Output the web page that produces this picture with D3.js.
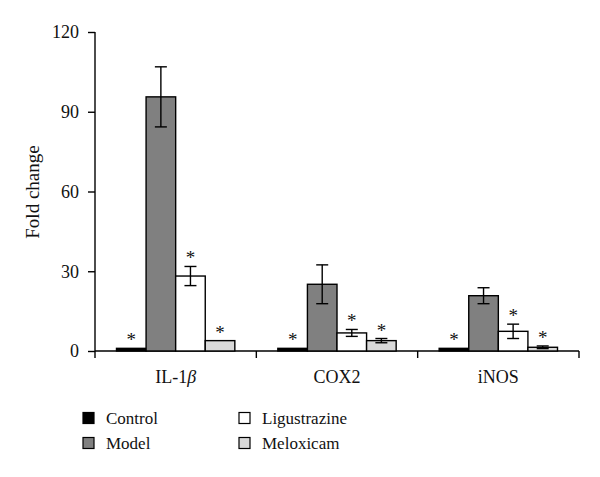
<!DOCTYPE html>
<html><head><meta charset="utf-8">
<script src="https://cdn.jsdelivr.net/npm/d3@7"></script>
<style>body{margin:0;background:#fff}svg{display:block}</style>
</head><body><svg id="c" width="600" height="477"></svg>
<script>
const categories = ["IL-1β", "COX2", "iNOS"];
const series = ["Control", "Model", "Ligustrazine", "Meloxicam"];
const colors = ["#000000", "#808080", "#ffffff", "#d9d9d9"];
const control = [1.0, 1.0, 1.0];
const model = [95.6, 25.1, 20.8];
const ligustrazine = [28.2, 6.8, 7.4];
const meloxicam = [3.9, 3.9, 1.4];
const controlErr = [0, 0, 0];
const modelErr = [11.3, 7.3, 3.0];
const ligustrazineErr = [3.6, 1.3, 2.7];
const meloxicamErr = [0, 0.8, 0.5];
const significant = [true, false, true, true];
const yTicks = [0, 30, 60, 90, 120];

const values = [control, model, ligustrazine, meloxicam];
const errs = [controlErr, modelErr, ligustrazineErr, meloxicamErr];
const font = "'Liberation Serif', 'DejaVu Serif', serif";
const svg = d3.select("#c");

const y = d3.scaleLinear().domain([0, 120]).range([351, 32]);
const x0 = d3.scaleBand().domain(categories).range([95, 579]);
const x1 = d3.scaleBand().domain(series).range([21.5, x0.bandwidth() - 21.5]);

// y axis
const ya = svg.append("g").attr("transform", "translate(95,0)")
  .call(d3.axisLeft(y).tickValues(yTicks).tickSize(7).tickPadding(9));
ya.select(".domain").remove();
ya.selectAll("line").attr("stroke", "#000").attr("stroke-width", 1.4);
ya.selectAll("text").attr("font-family", font).attr("font-size", 18).attr("fill", "#111");
svg.append("line").attr("x1", 95).attr("x2", 95).attr("y1", 32).attr("y2", 358)
  .attr("stroke", "#000").attr("stroke-width", 1.4);

// x axis
svg.append("line").attr("x1", 95).attr("x2", 579).attr("y1", y(0)).attr("y2", y(0))
  .attr("stroke", "#000").attr("stroke-width", 1.4);
svg.selectAll(".sep").data(categories).enter().append("line")
  .attr("x1", d => x0(d) + x0.bandwidth()).attr("x2", d => x0(d) + x0.bandwidth())
  .attr("y1", y(0)).attr("y2", y(0) + 7).attr("stroke", "#000").attr("stroke-width", 1.4);

// category labels
const cl = svg.selectAll(".cl").data(categories).enter().append("text")
  .attr("x", d => x0(d) + x0.bandwidth() / 2).attr("y", 383)
  .attr("text-anchor", "middle").attr("font-family", font).attr("font-size", 18).attr("fill", "#111");
cl.each(function(d) {
  const t = d3.select(this);
  if (d.endsWith("β")) {
    t.append("tspan").text(d.slice(0, -1));
    t.append("tspan").attr("font-style", "italic").text("β");
  } else t.text(d);
});

// y label
svg.append("text").attr("transform", "translate(39,192) rotate(-90)")
  .attr("text-anchor", "middle").attr("font-family", font).attr("font-size", 19).attr("fill", "#111")
  .text("Fold change");

// bars
categories.forEach((c, ci) => {
  series.forEach((s, si) => {
    const v = values[si][ci], e = errs[si][ci];
    const bx = x0(c) + x1(s), bw = x1.bandwidth();
    svg.append("rect").attr("x", bx).attr("y", y(v)).attr("width", bw).attr("height", y(0) - y(v))
      .attr("fill", colors[si]).attr("stroke", "#000").attr("stroke-width", 1.4);
    const cx = bx + bw / 2;
    if (e > 0) {
      svg.append("line").attr("x1", cx).attr("x2", cx).attr("y1", y(v + e)).attr("y2", y(v - e))
        .attr("stroke", "#000").attr("stroke-width", 1.4);
      [v + e, v - e].forEach(t => svg.append("line").attr("x1", cx - 6).attr("x2", cx + 6)
        .attr("y1", y(t)).attr("y2", y(t)).attr("stroke", "#000").attr("stroke-width", 1.4));
    }
    if (significant[si]) {
      svg.append("text").attr("x", cx).attr("y", y(v + e) - 2)
        .attr("text-anchor", "middle").attr("font-family", font).attr("font-size", 19).attr("fill", "#111")
        .text("*");
    }
  });
});

// legend
const leg = [[83, 418], [83, 443], [239, 418], [239, 443]];
series.forEach((s, si) => {
  const [lx, ly] = leg[si];
  svg.append("rect").attr("x", lx).attr("y", ly - 5.5).attr("width", 11).attr("height", 11)
    .attr("fill", colors[si]).attr("stroke", "#000").attr("stroke-width", 1.2);
  svg.append("text").attr("x", lx + 23).attr("y", ly + 6).attr("font-family", font)
    .attr("font-size", 17).attr("fill", "#111").text(s);
});
</script></body></html>
